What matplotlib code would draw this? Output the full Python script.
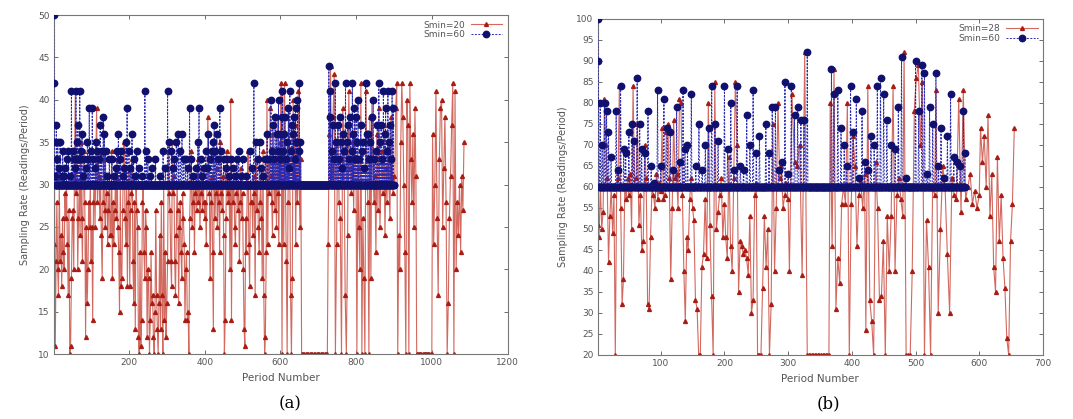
import numpy as np
import matplotlib
matplotlib.use("Agg")
import matplotlib.pyplot as plt

# ---- panel (a): Smin=20 vs Smin=60 ----
# red series, read chunk by chunk: (first period, last period, readings)
red_a_chunks = [
    (1, 50, [23, 31, 11, 21, 28, 20, 17, 30, 21, 24, 18, 26, 22, 20, 29, 26, 30, 23, 17, 27, 10, 11, 19, 26]),
    (52, 100, [27, 20, 33, 41, 29, 33, 20, 26, 30, 24, 35, 26, 21, 31, 34, 28, 12, 25, 16, 20, 28, 25, 30, 21]),
    (102, 150, [25, 14, 28, 30, 25, 33, 39, 28, 34, 31, 26, 30, 24, 19, 28, 33, 27, 25, 30, 29, 23, 27, 31, 24]),
    (152, 200, [24, 34, 19, 28, 23, 27, 31, 26, 33, 25, 22, 15, 30, 18, 19, 27, 34, 35, 26, 23, 30, 18, 28, 32]),
    (202, 250, [18, 27, 29, 33, 21, 16, 28, 13, 30, 27, 25, 12, 10, 22, 11, 14, 28, 30, 22, 19, 27, 25, 12, 20]),
    (252, 300, [19, 10, 14, 22, 16, 17, 12, 10, 15, 27, 17, 13, 10, 16, 24, 13, 28, 17, 10, 30, 14, 22, 12, 16]),
    (302, 350, [21, 34, 29, 27, 21, 18, 35, 29, 31, 21, 17, 24, 30, 27, 16, 25, 28, 22, 19, 29, 26, 23, 14, 20]),
    (352, 400, [22, 14, 15, 10, 26, 30, 34, 25, 28, 31, 22, 29, 31, 27, 33, 28, 30, 25, 29, 32, 27, 31, 28, 26]),
    (402, 450, [28, 23, 30, 38, 33, 29, 19, 28, 31, 22, 13, 30, 26, 29, 32, 25, 30, 28, 22, 35, 29, 27, 31, 24]),
    (452, 500, [10, 14, 26, 34, 29, 28, 31, 20, 40, 14, 30, 28, 31, 25, 23, 29, 33, 27, 30, 21, 28, 32, 26, 29]),
    (502, 550, [20, 13, 11, 26, 22, 30, 34, 23, 18, 30, 28, 28, 24, 31, 29, 17, 33, 27, 30, 25, 22, 28, 31, 26]),
    (552, 600, [19, 34, 17, 10, 12, 22, 40, 23, 33, 29, 39, 31, 28, 24, 36, 30, 27, 33, 25, 38, 29, 23, 35, 30]),
    (602, 654, [42, 10, 41, 23, 42, 30, 21, 10, 28, 39, 33, 17, 10, 19, 40, 31, 37, 23, 35, 28, 41, 30, 25, 33]),
    (656, 724, [10] * 20),
    (726, 800, [23, 36, 44, 30, 38, 43, 10, 23, 37, 28, 26, 10, 39, 36, 17, 10, 24, 41, 32, 29, 35, 27, 38, 30]),
    (802, 900, [10, 32, 25, 20, 42, 10, 26, 19, 10, 41, 33, 28, 10, 38, 19, 40, 33, 28, 31, 22, 36, 27, 39,
                25, 30, 34, 29, 37, 24, 32, 28, 35, 30, 26, 38, 33, 29, 31]),
    (902, 958, [30, 39, 42, 10, 24, 20, 35, 42, 38, 30, 22, 10, 40, 37, 10, 42, 33, 28, 36, 25, 39, 31]),
    (960, 1000, [10] * 14),
    (1002, 1085, [36, 23, 30, 41, 26, 17, 33, 39, 40, 25, 32, 38, 28, 10, 16, 26, 31, 37, 42, 10, 41, 20,
                  28, 24, 30, 22, 31, 27, 35]),
]

# blue series: 30 readings/period except at these periods
blue_a_last = 900
blue_a_base = 30
blue_a_spikes = [
    (1, 50), (2, 42), (3, 35), (5, 31), (8, 37), (10, 33), (12, 35), (15, 32), (18, 35), (22, 31),
    (25, 34), (28, 31), (30, 32), (35, 33), (40, 34), (44, 31), (48, 41), (51, 34), (55, 33),
    (58, 32), (60, 41), (63, 35), (65, 37), (68, 33), (70, 41), (73, 34), (76, 36), (79, 31),
    (82, 33), (86, 32), (90, 35), (93, 33), (95, 39), (99, 34), (103, 39), (106, 33), (110, 32),
    (113, 35), (116, 34), (120, 33), (124, 37), (128, 34), (132, 38), (135, 36), (138, 34),
    (143, 31), (148, 33), (155, 33), (160, 31), (165, 32), (168, 34), (172, 36), (175, 33),
    (178, 34), (183, 31), (188, 32), (192, 35), (195, 39), (200, 34), (204, 32), (208, 36),
    (212, 33), (215, 31), (220, 34), (226, 32), (235, 31), (242, 41), (246, 34), (250, 33),
    (255, 31), (260, 32), (270, 33), (282, 31), (290, 34), (296, 32), (302, 41), (306, 35),
    (312, 34), (316, 32), (320, 33), (325, 35), (330, 36), (335, 34), (340, 36), (345, 33),
    (350, 33), (355, 32), (360, 39), (365, 33), (370, 31), (378, 32), (382, 35), (385, 39),
    (390, 33), (394, 31), (398, 32), (403, 34), (406, 32), (410, 36), (414, 33), (418, 34),
    (422, 35), (425, 37), (428, 34), (432, 36), (436, 33), (440, 39), (444, 34), (450, 33),
    (455, 32), (460, 33), (465, 31), (470, 33), (475, 32), (480, 31), (485, 33), (490, 34),
    (495, 31), (500, 33), (510, 31), (520, 34), (526, 32), (530, 42), (535, 35), (540, 33),
    (545, 35), (550, 32), (555, 31), (560, 33), (565, 36), (570, 33), (575, 40), (578, 34),
    (580, 37), (583, 33), (586, 38), (590, 36), (593, 34), (595, 40), (598, 33), (600, 36),
    (603, 38), (605, 41), (608, 34), (610, 36), (612, 38), (615, 33), (618, 35), (621, 39),
    (623, 32), (625, 41), (628, 34), (630, 37), (633, 36), (635, 38), (638, 33), (640, 39),
    (642, 35), (645, 40), (648, 34), (650, 42), (653, 35), (728, 44), (730, 38), (732, 41),
    (735, 34), (738, 37), (741, 33), (745, 42), (748, 35), (752, 37), (755, 33), (758, 38),
    (760, 35), (763, 32), (765, 36), (768, 34), (772, 42), (775, 35), (778, 37), (781, 33),
    (785, 38), (788, 34), (790, 42), (793, 36), (795, 39), (798, 33), (800, 38), (803, 35),
    (805, 40), (808, 33), (812, 37), (815, 34), (818, 35), (821, 32), (825, 42), (828, 36),
    (832, 36), (835, 33), (838, 35), (841, 38), (845, 40), (848, 33), (852, 34), (856, 37),
    (860, 42), (863, 35), (866, 37), (869, 33), (872, 41), (875, 36), (878, 39), (881, 34),
    (884, 41), (887, 35), (890, 37), (893, 33), (895, 41), (898, 39),
]

# ---- panel (b): Smin=28 vs Smin=60 ----
red_b_chunks = [
    (1, 50, [51, 48, 60, 50, 54, 81, 70, 62, 42, 53, 60, 49, 58, 20, 60, 62, 84, 55, 32, 38, 60, 57, 62, 58]),
    (52, 100, [63, 50, 84, 60, 62, 75, 51, 58, 45, 47, 70, 62, 32, 31, 48, 60, 58, 55, 63, 57, 61, 59]),
    (102, 150, [74, 57, 58, 73, 75, 62, 38, 55, 76, 62, 63, 55, 81, 80, 58, 40, 28, 48, 45, 57, 62, 55]),
    (152, 200, [52, 33, 31, 20, 20, 41, 44, 57, 43, 80, 51, 34, 20, 85, 50, 54, 58, 62, 48, 56]),
    (202, 250, [48, 43, 67, 46, 40, 62, 85, 70, 35, 47, 46, 44, 45, 43, 39, 53, 30, 33, 58, 61]),
    (252, 300, [20, 20, 20, 36, 53, 41, 50, 20, 32, 75, 40, 55, 80, 62, 65, 55, 58, 61, 57]),
    (302, 330, [40, 82, 66, 65, 70, 39, 92, 20]),
    (332, 364, [20] * 14),
    (366, 420, [80, 46, 88, 31, 43, 37, 56, 60, 56, 80, 20, 56, 72, 65, 46, 58, 61, 55, 63]),
    (422, 480, [26, 84, 33, 28, 20, 66, 55, 33, 34, 47, 20, 53, 40, 53, 84, 40, 58, 62, 57, 53]),
    (482, 530, [92, 20, 20, 20, 40, 78, 86, 89, 70, 85, 20, 52, 41, 20, 60, 58]),
    (532, 600, [83, 30, 50, 65, 60, 44, 30, 62, 58, 57, 81, 54, 83, 57, 60, 63, 56, 59, 55, 58]),
    (602, 655, [74, 66, 72, 60, 77, 53, 63, 41, 35, 67, 47, 58, 43, 36, 24, 20, 47, 56, 74]),
]

blue_b_last = 578
blue_b_base = 60
blue_b_spikes = [
    (1, 100), (2, 90), (5, 80), (8, 70), (12, 80), (15, 78), (18, 73), (22, 67), (30, 78),
    (33, 64), (37, 84), (42, 69), (45, 68), (50, 73), (55, 75), (58, 71), (63, 86), (67, 75),
    (70, 69), (75, 68), (80, 78), (85, 65), (90, 61), (95, 83), (100, 65), (105, 81),
    (110, 74), (115, 73), (120, 64), (125, 79), (130, 66), (135, 83), (138, 69), (142, 70),
    (148, 82), (155, 65), (160, 75), (165, 64), (170, 70), (175, 74), (180, 84), (185, 75),
    (190, 71), (200, 84), (205, 69), (210, 80), (215, 64), (220, 84), (225, 65), (230, 64),
    (235, 77), (240, 70), (245, 83), (250, 68), (255, 72), (265, 75), (270, 68), (275, 79),
    (280, 79), (285, 64), (290, 66), (295, 85), (300, 63), (305, 84), (310, 77), (315, 79),
    (320, 76), (325, 76), (330, 92), (368, 88), (372, 82), (378, 83), (383, 74), (388, 70),
    (392, 65), (398, 84), (402, 73), (407, 81), (412, 62), (416, 78), (420, 66), (425, 64),
    (430, 72), (435, 70), (440, 84), (445, 86), (450, 82), (455, 76), (462, 70), (468, 69),
    (473, 79), (478, 91), (485, 62), (500, 90), (505, 78), (510, 89), (514, 87), (518, 63),
    (522, 79), (527, 75), (532, 87), (536, 65), (540, 74), (545, 62), (550, 72), (555, 82),
    (560, 67), (565, 66), (570, 65), (575, 78), (578, 68),
]

RED_LINE = "#d2685e"
RED_MARK = "#a81c14"
BLUE_LINE = "#2a2ab0"
BLUE_MARK = "#10106e"
GREY = "#555555"


def build_red(chunks):
    xs, ys = [], []
    for start, end, vals in chunks:
        xs.extend(np.linspace(start, end, len(vals)))
        ys.extend(vals)
    return np.array(xs), np.array(ys)


def build_blue(last, base, spikes):
    periods = np.arange(1, last + 1)
    vals = np.full(last, base, dtype=float)
    for p, v in spikes:
        vals[p - 1] = v
    return periods, vals


def draw_panel(ax, red, blue, red_label, xmax, ylim, xticks):
    rx, ry = red
    bx, by = blue
    ax.plot(rx, ry, color=RED_LINE, lw=0.8, marker="^", ms=2.8, mec=RED_MARK, mfc=RED_MARK,
            label=red_label, zorder=2)
    ax.plot(bx, by, color=BLUE_LINE, lw=0.7, ls=(0, (2, 1.5)), marker="o", ms=4.6,
            mec=BLUE_MARK, mfc=BLUE_MARK, label="Smin=60", zorder=3)
    ax.set_xlim(1, xmax)
    ax.set_ylim(*ylim)
    ax.set_xticks(xticks)
    ax.set_yticks(np.arange(ylim[0], ylim[1] + 1, 5))
    ax.tick_params(direction="in", top=True, right=True, labelsize=6.5,
                   colors=GREY, length=3, width=0.6, pad=3)
    for s in ax.spines.values():
        s.set_color("#777777")
        s.set_linewidth(0.8)
    ax.set_xlabel("Period Number", fontsize=7.5, color=GREY, labelpad=4)
    ax.set_ylabel("Sampling Rate (Readings/Period)", fontsize=7, color=GREY, labelpad=6)
    leg = ax.legend(loc="upper right", frameon=False, fontsize=6.5, markerfirst=False,
                    handlelength=3.5, borderaxespad=0.2, labelspacing=0.1,
                    handletextpad=0.6)
    for t in leg.get_texts():
        t.set_color(GREY)


fig = plt.figure(figsize=(10.73, 4.19), dpi=100)
ax_a = fig.add_axes([0.050, 0.155, 0.423, 0.809])
ax_b = fig.add_axes([0.557, 0.153, 0.415, 0.802])

draw_panel(ax_a, build_red(red_a_chunks), build_blue(blue_a_last, blue_a_base, blue_a_spikes),
           "Smin=20", 1200, (10, 50), [200, 400, 600, 800, 1000, 1200])
draw_panel(ax_b, build_red(red_b_chunks), build_blue(blue_b_last, blue_b_base, blue_b_spikes),
           "Smin=28", 700, (20, 100), [100, 200, 300, 400, 500, 600, 700])

fig.text(0.27, 0.025, "(a)", fontsize=12, family="serif", ha="center")
fig.text(0.772, 0.025, "(b)", fontsize=12, family="serif", ha="center")

fig.savefig("out.png", dpi=100)
